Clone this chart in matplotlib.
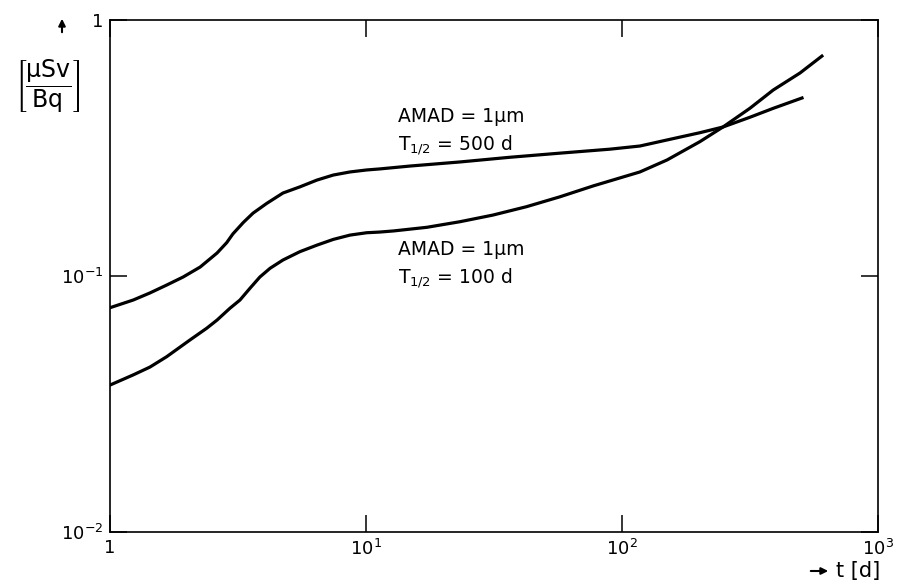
import matplotlib
matplotlib.use("Agg")
import matplotlib.pyplot as plt
from matplotlib.patches import FancyArrowPatch

plt.rcParams['font.family'] = ['DejaVu Sans']
plt.rcParams['mathtext.fontset'] = 'dejavusans'

# curve T1/2 = 500 d
t_500 = [1.0, 1.233, 1.433, 1.665, 1.93, 2.25, 2.62, 2.857, 3.02, 3.32, 3.62,
         4.09, 4.74, 5.52, 6.43, 7.45, 8.66, 10.06, 11.3, 14.9, 23.3, 36.5,
         57.3, 89.8, 117.5, 150, 201.7, 248, 316, 390, 505]
d_500 = [0.0752, 0.0806, 0.0859, 0.0922, 0.0991, 0.1084, 0.123, 0.135, 0.146,
         0.162, 0.176, 0.192, 0.211, 0.223, 0.237, 0.248, 0.255, 0.2596, 0.262,
         0.269, 0.279, 0.291, 0.302, 0.313, 0.322, 0.340, 0.363, 0.382, 0.417,
         0.452, 0.496]

# curve T1/2 = 100 d
t_100 = [1.0, 1.233, 1.433, 1.665, 2.05, 2.386, 2.62, 2.94, 3.22, 3.52, 3.85,
         4.22, 4.74, 5.52, 6.43, 7.45, 8.66, 10.06, 11.3, 12.8, 17.3, 23.3,
         31.3, 42.4, 57.3, 77.3, 117.5, 150, 201.7, 248, 316, 390, 496, 604]
d_100 = [0.0375, 0.0411, 0.0441, 0.0484, 0.0562, 0.0625, 0.0673, 0.0748,
         0.0806, 0.0895, 0.0991, 0.1072, 0.1155, 0.1245, 0.132, 0.139, 0.1445,
         0.1476, 0.1485, 0.150, 0.155, 0.163, 0.173, 0.1866, 0.204, 0.225,
         0.255, 0.284, 0.335, 0.382, 0.452, 0.533, 0.621, 0.723]

xticks = [1, 10, 100, 1000]
xlabels = ['1', '$10^{1}$', '$10^{2}$', '$10^{3}$']
yticks = [0.01, 0.1, 1]
ylabels = ['$10^{-2}$', '$10^{-1}$', '1']

fig = plt.figure(figsize=(9, 5.84), dpi=100)
ax = fig.add_axes([0.1222, 0.0890, 0.8533, 0.8767])

ax.plot(t_500, d_500, color='black', lw=2.3, solid_joinstyle='round')
ax.plot(t_100, d_100, color='black', lw=2.3, solid_joinstyle='round')

ax.set_xscale('log')
ax.set_yscale('log')
ax.set_xlim(1, 1000)
ax.set_ylim(0.01, 1)
ax.set_xticks(xticks)
ax.set_xticklabels(xlabels)
ax.set_yticks(yticks)
ax.set_yticklabels(ylabels)
ax.minorticks_off()
ax.tick_params(which='major', direction='in', length=12, width=1.1,
               top=True, right=True, labelsize=13, pad=5)
for s in ax.spines.values():
    s.set_linewidth(1.2)

# curve labels
ax.text(13.3, 0.42, 'AMAD = 1μm', fontsize=13.5, va='center')
ax.text(13.3, 0.325, 'T$_{1/2}$ = 500 d', fontsize=13.5, va='center')
ax.text(13.3, 0.1265, 'AMAD = 1μm', fontsize=13.5, va='center')
ax.text(13.3, 0.0985, 'T$_{1/2}$ = 100 d', fontsize=13.5, va='center')

# axis labels with arrows
fig.text(48 / 900, 1 - 86 / 584, r'$\left[\dfrac{\mathrm{μSv}}{\mathrm{Bq}}\right]$',
         fontsize=17, ha='center', va='center')
fig.patches.append(FancyArrowPatch(
    (62 / 900, 1 - 35 / 584), (62 / 900, 1 - 16 / 584), transform=fig.transFigure,
    arrowstyle='-|>', mutation_scale=10, lw=1.5, color='black'))
fig.patches.append(FancyArrowPatch(
    (808 / 900, 1 - 571 / 584), (831 / 900, 1 - 571 / 584), transform=fig.transFigure,
    arrowstyle='-|>', mutation_scale=10, lw=1.5, color='black'))
fig.text(836 / 900, 1 - 571 / 584, 't [d]', fontsize=15, ha='left', va='center')

fig.savefig('out.png', dpi=100)
